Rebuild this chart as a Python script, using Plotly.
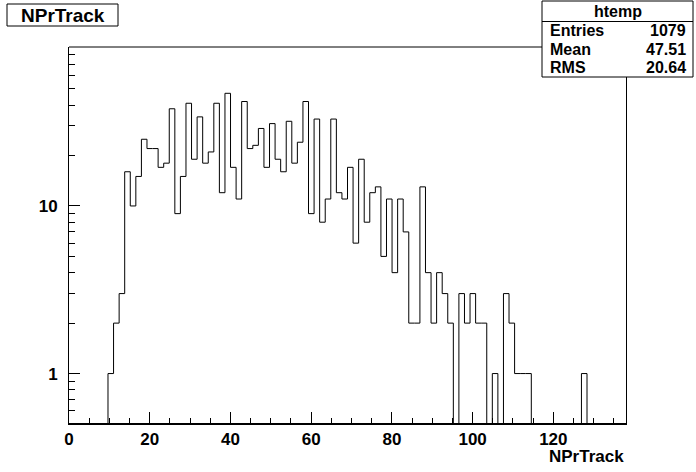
import numpy as np
import plotly.graph_objects as go

# ---- data ----
x_min = 0.0
x_max = 138.0
n_bins = 100
counts = [0, 0, 0, 0, 0, 0, 0, 1, 2, 3,
          16, 10, 15, 25, 22, 22, 17, 18, 38, 9,
          15, 41, 19, 34, 18, 21, 41, 12, 47, 17,
          11, 42, 22, 23, 29, 17, 31, 19, 16, 32,
          18, 24, 42, 9, 33, 8, 11, 33, 12, 11,
          17, 6, 19, 8, 12, 13, 5, 11, 4, 11,
          7, 2, 2, 13, 4, 2, 4, 3, 2, 0,
          3, 2, 3, 2, 2, 0, 1, 0, 3, 2,
          1, 1, 1, 0, 0, 0, 0, 0, 0, 0,
          0, 0, 1, 0, 0, 0, 0, 0, 0, 0]
x_tick_vals = [0, 20, 40, 60, 80, 100, 120]
y_tick_vals = [1, 10]
y_minor_vals = [0.6, 0.7, 0.8, 0.9, 2, 3, 4, 5, 6, 7, 8, 9, 20, 30, 40, 50, 60, 70, 80]
stats_title = "htemp"
stats_labels = ["Entries", "Mean", "RMS"]
stats_values = ["1079", "47.51", "20.64"]
hist_title = "NPrTrack"
x_title = "NPrTrack"

# ---- geometry ----
W_PX, H_PX = 696, 472
L, R, T, B = 69, 626, 47, 423
PW, PH = R - L, B - T


def px(xp):
    return (xp - L) / PW


def py(yp):
    return (B - yp) / PH


edges = np.linspace(x_min, x_max, n_bins + 1)
floor_val = 0.01  # empty bins drop below the visible range (clipped), like ROOT
step_y = [c if c > 0 else floor_val for c in counts]
step_y = step_y + [step_y[-1]]
step_x = list(edges)
step_x = step_x + [edges[-1]]
step_y = step_y + [floor_val]

FONT = "Liberation Sans, Arial, Helvetica, sans-serif"

fig = go.Figure()
fig.add_trace(go.Scatter(
    x=step_x, y=step_y, mode="lines", line_shape="hv",
    line=dict(color="black", width=1), hoverinfo="skip", showlegend=False,
))

fig.update_layout(
    width=W_PX, height=H_PX,
    margin=dict(l=L, r=W_PX - R, t=T, b=H_PX - B, pad=0),
    paper_bgcolor="white", plot_bgcolor="white",
    showlegend=False,
    xaxis=dict(
        range=[x_min, x_max], showgrid=False, zeroline=False,
        showline=True, linecolor="black", linewidth=2, mirror=False,
        tickmode="array", tickvals=x_tick_vals,
        ticks="inside", ticklen=11, tickwidth=1, tickcolor="black",
        minor=dict(dtick=5, tick0=0, ticks="inside", ticklen=5, tickwidth=1,
                   tickcolor="black", showgrid=False),
        tickfont=dict(family=FONT, size=17, color="black", weight="bold"),
        ticklabelstandoff=0,
    ),
    yaxis=dict(
        type="log", range=[np.log10(0.507), np.log10(88.8)],
        showgrid=False, zeroline=False,
        showline=True, linecolor="black", linewidth=1, mirror=True,
        tickmode="array", tickvals=y_tick_vals,
        ticktext=[str(v) for v in y_tick_vals],
        ticks="inside", ticklen=11, tickwidth=1, tickcolor="black",
        minor=dict(tickmode="array", tickvals=y_minor_vals, ticks="inside",
                   ticklen=6, tickwidth=1, tickcolor="black", showgrid=False),
        tickfont=dict(family=FONT, size=17, color="black", weight="bold"),
        ticklabelstandoff=7,
    ),
)

shapes = []
annotations = []

# top frame line
shapes.append(dict(type="line", xref="paper", yref="paper", x0=0, x1=1, y0=1, y1=1,
                   line=dict(color="black", width=1), layer="above"))

# title box
shapes.append(dict(type="rect", xref="paper", yref="paper",
                   x0=px(7), x1=px(118), y0=py(26), y1=py(4),
                   line=dict(color="black", width=1), fillcolor="white", layer="above"))
annotations.append(dict(text=hist_title, xref="paper", yref="paper",
                        x=px(62.5), y=py(15.5), xanchor="center", yanchor="middle",
                        showarrow=False,
                        font=dict(family=FONT, size=19, color="black", weight="bold")))

# stats box
SX0, SX1, SY0, SY1, SHDR = 542, 693, 1, 77, 21.5
shapes.append(dict(type="rect", xref="paper", yref="paper",
                   x0=px(SX0), x1=px(SX1), y0=py(SY1), y1=py(SY0),
                   line=dict(color="black", width=1), fillcolor="white", layer="above"))
shapes.append(dict(type="line", xref="paper", yref="paper",
                   x0=px(SX0), x1=px(SX1), y0=py(SHDR), y1=py(SHDR),
                   line=dict(color="black", width=1), layer="above"))
annotations.append(dict(text=stats_title, xref="paper", yref="paper",
                        x=px((SX0 + SX1) / 2), y=py(11.5), xanchor="center", yanchor="middle",
                        showarrow=False,
                        font=dict(family=FONT, size=16, color="black", weight="bold")))
row_h = (SY1 - SHDR) / len(stats_labels)
for i, (lab, val) in enumerate(zip(stats_labels, stats_values)):
    yc = SHDR + row_h * (i + 0.5)
    annotations.append(dict(text=lab, xref="paper", yref="paper",
                            x=px(548), y=py(yc), xanchor="left", yanchor="middle",
                            showarrow=False,
                            font=dict(family=FONT, size=16, color="black", weight="bold")))
    annotations.append(dict(text=val, xref="paper", yref="paper",
                            x=px(688), y=py(yc), xanchor="right", yanchor="middle",
                            showarrow=False,
                            font=dict(family=FONT, size=16, color="black", weight="bold")))

# x-axis title (right aligned, ROOT style)
annotations.append(dict(text=x_title, xref="paper", yref="paper",
                        x=1.0, y=py(456), xanchor="right", yanchor="middle",
                        showarrow=False,
                        font=dict(family=FONT, size=17, color="black", weight="bold")))

fig.update_layout(shapes=shapes, annotations=annotations)
fig.write_html("out.html",
               config={"displayModeBar": False},
               post_script="document.body.style.margin='0px';document.body.style.padding='0px';")
